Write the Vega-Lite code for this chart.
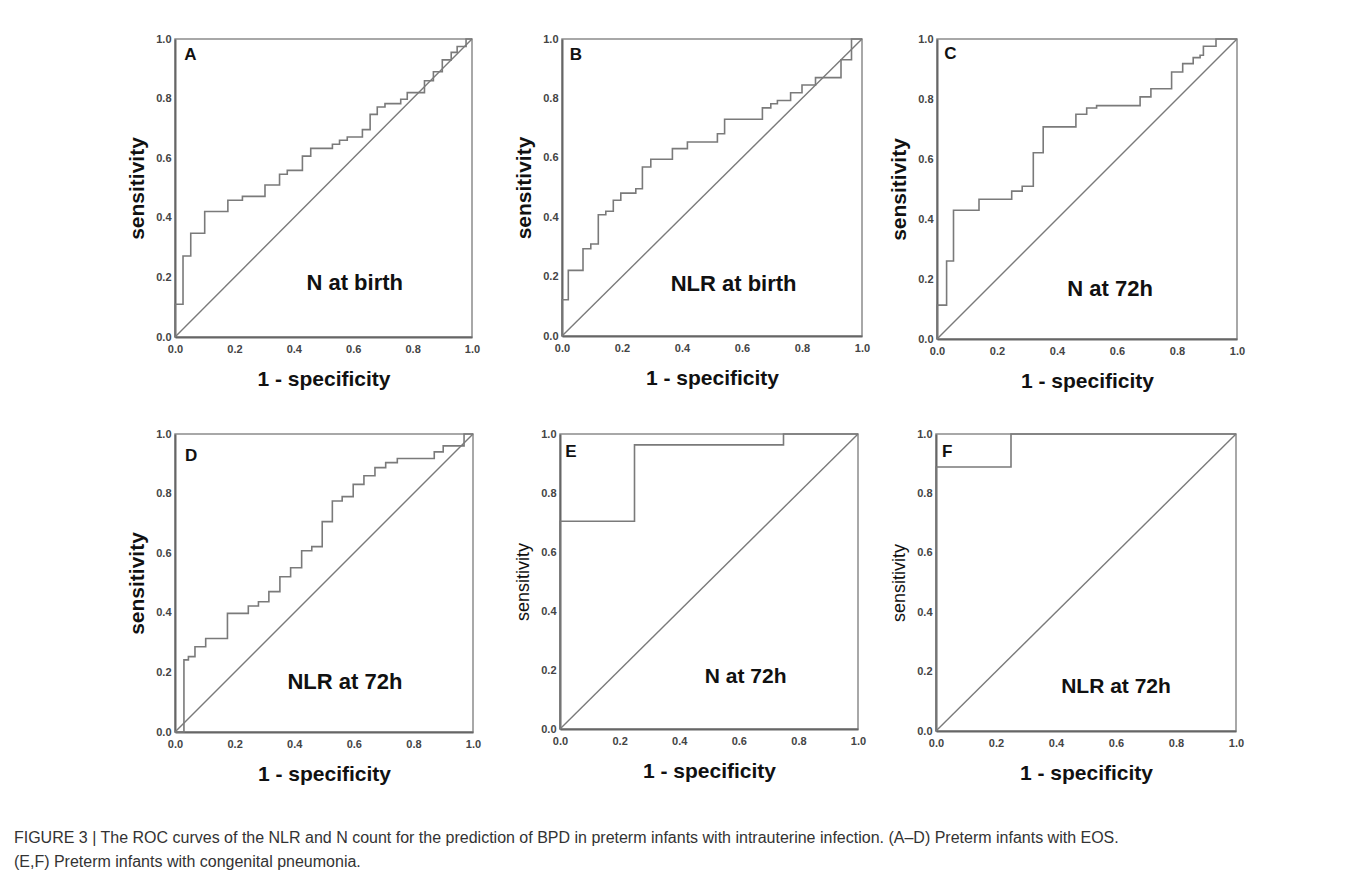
{
  "$schema": "https://vega.github.io/schema/vega-lite/v6.json",
  "background": "white",
  "padding": {"left": 13, "top": 32, "right": 5, "bottom": 5},
  "config": {
    "font": "Liberation Sans",
    "view": {"stroke": "#8c8c8c", "strokeWidth": 1.5},
    "axis": {"grid": false, "ticks": false, "tickCount": 5, "domainColor": "#666666", "domainWidth": 2, "labelFont": "Liberation Sans", "labelFontSize": 11, "labelFontWeight": "bold", "labelColor": "#444444", "titleFont": "Liberation Sans", "titleFontSize": 21, "titleFontWeight": "bold", "titleColor": "#111111", "labelFlush": false, "format": ".1f"},
    "axisX": {"labelPadding": 6, "titlePadding": 14},
    "axisY": {"labelPadding": 4, "titlePadding": 8},
    "text": {"font": "Liberation Sans", "fontWeight": "bold", "color": "#111111"},
    "title": {"font": "Liberation Sans"}
  },
  "datasets": {
    "one": [{}],
    "diag": [{"fpr": 0, "tpr": 0}, {"fpr": 1, "tpr": 1}],
    "A": [{"fpr":0,"tpr":0},{"fpr":0,"tpr":0.11},{"fpr":0.027,"tpr":0.272},{"fpr":0.053,"tpr":0.348},{"fpr":0.1,"tpr":0.421},{"fpr":0.178,"tpr":0.459},{"fpr":0.227,"tpr":0.472},{"fpr":0.303,"tpr":0.51},{"fpr":0.352,"tpr":0.546},{"fpr":0.378,"tpr":0.559},{"fpr":0.429,"tpr":0.607},{"fpr":0.457,"tpr":0.633},{"fpr":0.53,"tpr":0.647},{"fpr":0.554,"tpr":0.66},{"fpr":0.58,"tpr":0.671},{"fpr":0.631,"tpr":0.696},{"fpr":0.657,"tpr":0.747},{"fpr":0.681,"tpr":0.772},{"fpr":0.707,"tpr":0.783},{"fpr":0.76,"tpr":0.798},{"fpr":0.782,"tpr":0.82},{"fpr":0.84,"tpr":0.86},{"fpr":0.87,"tpr":0.89},{"fpr":0.9,"tpr":0.93},{"fpr":0.93,"tpr":0.955},{"fpr":0.95,"tpr":0.975},{"fpr":0.98,"tpr":1},{"fpr":1,"tpr":1}],
    "B": [{"fpr":0,"tpr":0},{"fpr":0,"tpr":0.122},{"fpr":0.021,"tpr":0.221},{"fpr":0.07,"tpr":0.294},{"fpr":0.096,"tpr":0.31},{"fpr":0.121,"tpr":0.408},{"fpr":0.146,"tpr":0.42},{"fpr":0.171,"tpr":0.457},{"fpr":0.196,"tpr":0.481},{"fpr":0.246,"tpr":0.496},{"fpr":0.268,"tpr":0.569},{"fpr":0.296,"tpr":0.595},{"fpr":0.368,"tpr":0.631},{"fpr":0.418,"tpr":0.653},{"fpr":0.518,"tpr":0.681},{"fpr":0.542,"tpr":0.73},{"fpr":0.668,"tpr":0.768},{"fpr":0.696,"tpr":0.782},{"fpr":0.718,"tpr":0.793},{"fpr":0.762,"tpr":0.819},{"fpr":0.8,"tpr":0.845},{"fpr":0.845,"tpr":0.87},{"fpr":0.93,"tpr":0.93},{"fpr":0.965,"tpr":1},{"fpr":1,"tpr":1}],
    "C": [{"fpr":0,"tpr":0},{"fpr":0,"tpr":0.113},{"fpr":0.032,"tpr":0.26},{"fpr":0.055,"tpr":0.429},{"fpr":0.14,"tpr":0.466},{"fpr":0.249,"tpr":0.493},{"fpr":0.284,"tpr":0.509},{"fpr":0.321,"tpr":0.621},{"fpr":0.354,"tpr":0.707},{"fpr":0.463,"tpr":0.749},{"fpr":0.499,"tpr":0.77},{"fpr":0.532,"tpr":0.778},{"fpr":0.677,"tpr":0.807},{"fpr":0.713,"tpr":0.834},{"fpr":0.782,"tpr":0.89},{"fpr":0.819,"tpr":0.918},{"fpr":0.854,"tpr":0.938},{"fpr":0.877,"tpr":0.946},{"fpr":0.888,"tpr":0.976},{"fpr":0.93,"tpr":1},{"fpr":1,"tpr":1}],
    "D": [{"fpr":0,"tpr":0},{"fpr":0.03,"tpr":0.242},{"fpr":0.045,"tpr":0.253},{"fpr":0.067,"tpr":0.286},{"fpr":0.103,"tpr":0.314},{"fpr":0.176,"tpr":0.398},{"fpr":0.246,"tpr":0.423},{"fpr":0.28,"tpr":0.437},{"fpr":0.315,"tpr":0.471},{"fpr":0.352,"tpr":0.521},{"fpr":0.388,"tpr":0.551},{"fpr":0.425,"tpr":0.608},{"fpr":0.459,"tpr":0.622},{"fpr":0.494,"tpr":0.706},{"fpr":0.528,"tpr":0.775},{"fpr":0.561,"tpr":0.79},{"fpr":0.598,"tpr":0.831},{"fpr":0.634,"tpr":0.86},{"fpr":0.671,"tpr":0.887},{"fpr":0.707,"tpr":0.904},{"fpr":0.746,"tpr":0.918},{"fpr":0.87,"tpr":0.94},{"fpr":0.9,"tpr":0.96},{"fpr":0.97,"tpr":1},{"fpr":1,"tpr":1}],
    "E": [{"fpr":0,"tpr":0},{"fpr":0,"tpr":0.704},{"fpr":0.25,"tpr":0.963},{"fpr":0.75,"tpr":1},{"fpr":1,"tpr":1}],
    "F": [{"fpr":0,"tpr":0},{"fpr":0,"tpr":0.889},{"fpr":0.25,"tpr":1},{"fpr":1,"tpr":1}]
  },
  "title": {
    "text": ["FIGURE 3 | The ROC curves of the NLR and N count for the prediction of BPD in preterm infants with intrauterine infection. (A–D) Preterm infants with EOS.", "(E,F) Preterm infants with congenital pneumonia."],
    "orient": "bottom", "anchor": "start", "frame": "bounds", "fontSize": 16, "fontWeight": "normal", "color": "#333333", "lineHeight": 24, "offset": 45, "dx": -112
  },
  "spacing": 35,
  "vconcat": [
    {
      "spacing": 31,
      "hconcat": [
        {
          "width": 297, "height": 298,
          "layer": [
            {"data": {"name": "A"}, "mark": {"type": "line", "interpolate": "step-after", "color": "#7a7a7a", "strokeWidth": 1.6},
             "encoding": {"x": {"field": "fpr", "type": "quantitative", "scale": {"domain": [0, 1]}, "axis": {"title": "1 - specificity"}}, "y": {"field": "tpr", "type": "quantitative", "scale": {"domain": [0, 1]}, "axis": {"title": "sensitivity"}}}},
            {"data": {"name": "diag"}, "mark": {"type": "line", "color": "#7a7a7a", "strokeWidth": 1.4}, "encoding": {"x": {"field": "fpr", "type": "quantitative"}, "y": {"field": "tpr", "type": "quantitative"}}},
            {"data": {"name": "one"}, "mark": {"type": "text", "text": "A", "fontSize": 17}, "encoding": {"x": {"datum": 0.052}, "y": {"datum": 0.946}}},
            {"data": {"name": "one"}, "mark": {"type": "text", "text": "N at birth", "fontSize": 22}, "encoding": {"x": {"datum": 0.605}, "y": {"datum": 0.18}}}
          ]
        },
        {
          "spacing": 16,
          "hconcat": [
            {
              "width": 300, "height": 297,
              "layer": [
                {"data": {"name": "B"}, "mark": {"type": "line", "interpolate": "step-after", "color": "#7a7a7a", "strokeWidth": 1.6},
                 "encoding": {"x": {"field": "fpr", "type": "quantitative", "scale": {"domain": [0, 1]}, "axis": {"title": "1 - specificity"}}, "y": {"field": "tpr", "type": "quantitative", "scale": {"domain": [0, 1]}, "axis": {"title": "sensitivity"}}}},
                {"data": {"name": "diag"}, "mark": {"type": "line", "color": "#7a7a7a", "strokeWidth": 1.4}, "encoding": {"x": {"field": "fpr", "type": "quantitative"}, "y": {"field": "tpr", "type": "quantitative"}}},
                {"data": {"name": "one"}, "mark": {"type": "text", "text": "B", "fontSize": 17}, "encoding": {"x": {"datum": 0.046}, "y": {"datum": 0.945}}},
                {"data": {"name": "one"}, "mark": {"type": "text", "text": "NLR at birth", "fontSize": 22}, "encoding": {"x": {"datum": 0.572}, "y": {"datum": 0.176}}}
              ]
            },
            {
              "width": 300, "height": 300,
              "layer": [
                {"data": {"name": "C"}, "mark": {"type": "line", "interpolate": "step-after", "color": "#7a7a7a", "strokeWidth": 1.6},
                 "encoding": {"x": {"field": "fpr", "type": "quantitative", "scale": {"domain": [0, 1]}, "axis": {"title": "1 - specificity"}}, "y": {"field": "tpr", "type": "quantitative", "scale": {"domain": [0, 1]}, "axis": {"title": "sensitivity"}}}},
                {"data": {"name": "diag"}, "mark": {"type": "line", "color": "#7a7a7a", "strokeWidth": 1.4}, "encoding": {"x": {"field": "fpr", "type": "quantitative"}, "y": {"field": "tpr", "type": "quantitative"}}},
                {"data": {"name": "one"}, "mark": {"type": "text", "text": "C", "fontSize": 17}, "encoding": {"x": {"datum": 0.045}, "y": {"datum": 0.95}}},
                {"data": {"name": "one"}, "mark": {"type": "text", "text": "N at 72h", "fontSize": 22}, "encoding": {"x": {"datum": 0.577}, "y": {"datum": 0.168}}}
              ]
            }
          ]
        }
      ]
    },
    {
      "spacing": 31,
      "hconcat": [
        {
          "width": 298, "height": 298,
          "layer": [
            {"data": {"name": "D"}, "mark": {"type": "line", "interpolate": "step-after", "color": "#7a7a7a", "strokeWidth": 1.6},
             "encoding": {"x": {"field": "fpr", "type": "quantitative", "scale": {"domain": [0, 1]}, "axis": {"title": "1 - specificity"}}, "y": {"field": "tpr", "type": "quantitative", "scale": {"domain": [0, 1]}, "axis": {"title": "sensitivity"}}}},
            {"data": {"name": "diag"}, "mark": {"type": "line", "color": "#7a7a7a", "strokeWidth": 1.4}, "encoding": {"x": {"field": "fpr", "type": "quantitative"}, "y": {"field": "tpr", "type": "quantitative"}}},
            {"data": {"name": "one"}, "mark": {"type": "text", "text": "D", "fontSize": 17}, "encoding": {"x": {"datum": 0.054}, "y": {"datum": 0.926}}},
            {"data": {"name": "one"}, "mark": {"type": "text", "text": "NLR at 72h", "fontSize": 22}, "encoding": {"x": {"datum": 0.57}, "y": {"datum": 0.169}}}
          ]
        },
        {
          "spacing": 22,
          "hconcat": [
            {
              "width": 298, "height": 295,
              "layer": [
                {"data": {"name": "E"}, "mark": {"type": "line", "interpolate": "step-after", "color": "#7a7a7a", "strokeWidth": 1.6},
                 "encoding": {"x": {"field": "fpr", "type": "quantitative", "scale": {"domain": [0, 1]}, "axis": {"title": "1 - specificity"}}, "y": {"field": "tpr", "type": "quantitative", "scale": {"domain": [0, 1]}, "axis": {"title": "sensitivity", "titleFontWeight": "normal", "titleFontSize": 18}}}},
                {"data": {"name": "diag"}, "mark": {"type": "line", "color": "#7a7a7a", "strokeWidth": 1.4}, "encoding": {"x": {"field": "fpr", "type": "quantitative"}, "y": {"field": "tpr", "type": "quantitative"}}},
                {"data": {"name": "one"}, "mark": {"type": "text", "text": "E", "fontSize": 17}, "encoding": {"x": {"datum": 0.037}, "y": {"datum": 0.94}}},
                {"data": {"name": "one"}, "mark": {"type": "text", "text": "N at 72h", "fontSize": 21}, "encoding": {"x": {"datum": 0.623}, "y": {"datum": 0.177}}}
              ]
            },
            {
              "width": 300, "height": 297,
              "layer": [
                {"data": {"name": "F"}, "mark": {"type": "line", "interpolate": "step-after", "color": "#7a7a7a", "strokeWidth": 1.6},
                 "encoding": {"x": {"field": "fpr", "type": "quantitative", "scale": {"domain": [0, 1]}, "axis": {"title": "1 - specificity"}}, "y": {"field": "tpr", "type": "quantitative", "scale": {"domain": [0, 1]}, "axis": {"title": "sensitivity", "titleFontWeight": "normal", "titleFontSize": 18}}}},
                {"data": {"name": "diag"}, "mark": {"type": "line", "color": "#7a7a7a", "strokeWidth": 1.4}, "encoding": {"x": {"field": "fpr", "type": "quantitative"}, "y": {"field": "tpr", "type": "quantitative"}}},
                {"data": {"name": "one"}, "mark": {"type": "text", "text": "F", "fontSize": 17}, "encoding": {"x": {"datum": 0.037}, "y": {"datum": 0.94}}},
                {"data": {"name": "one"}, "mark": {"type": "text", "text": "NLR at 72h", "fontSize": 21}, "encoding": {"x": {"datum": 0.6}, "y": {"datum": 0.148}}}
              ]
            }
          ]
        }
      ]
    }
  ]
}
